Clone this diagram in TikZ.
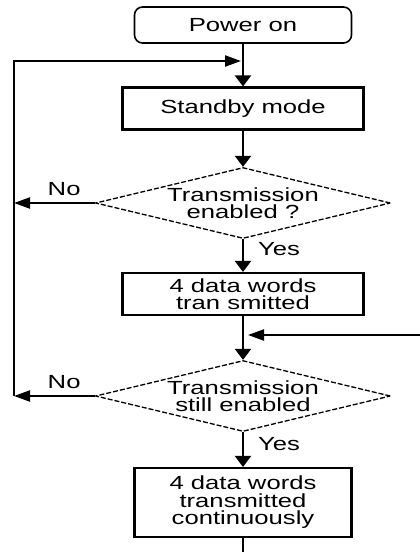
\documentclass[tikz,border=0pt]{standalone}
\usepackage{fontspec}
\newfontfamily\chartfont[FakeStretch=1.35]{Liberation Sans}
\usetikzlibrary{arrows.meta,positioning,shapes.geometric}

\begin{document}
\begin{tikzpicture}[x=1pt, y=-1pt,
    every node/.style={font=\chartfont\fontsize{19}{17.5}\selectfont},
    startbox/.style={rectangle, rounded corners=8pt, draw, line width=1.6pt,
                     minimum width=217pt, minimum height=36pt},
    procbox/.style={rectangle, draw, line width=2.1pt, align=center,
                    minimum width=241pt, minimum height=42pt, inner sep=0pt},
    decision/.style={diamond, draw, line width=1.3pt, dash pattern=on 5pt off 2pt,
                     aspect=4.15, minimum width=295pt, minimum height=71pt,
                     inner sep=0pt, align=center},
    flow/.style={-{Triangle[length=11pt, width=16pt]}, line width=2.1pt},
    sideflow/.style={-{Triangle[length=16pt, width=11pt]}, line width=2.1pt},
    answer/.style={inner sep=0pt}
  ]
  \useasboundingbox (0,0) rectangle (420,552);

  % boxes and decisions down the middle
  \node[startbox] (power) at (243,25) {Power on};
  \node[procbox] (standby) at (243,108.5) {Standby mode};
  \node[decision] (enabled) at (243,203) {Transmission\\enabled ?};
  \node[procbox] (sent) at (243,294) {4 data words\\tran smitted};
  \node[decision] (still) at (243,396) {Transmission\\still enabled};
  \node[procbox, minimum width=217pt, minimum height=69pt] (cont) at (243,502.5)
    {4 data words\\transmitted\\continuously};

  \coordinate (merge) at (243,61);
  \coordinate (loopbot) at (14,396);
  \coordinate (join) at (248,335);
  \coordinate (inflow) at (420,335);
  \coordinate (exit) at (243,552);

  % main line
  \draw[flow] (power) -- (standby);
  \draw[flow] (standby) -- (enabled);
  \draw[flow] (enabled) -- node[answer, pos=0.3, anchor=west, xshift=14pt] {Yes} (sent);
  \draw[flow] (sent) -- (still);
  \draw[flow] (still) -- node[answer, pos=0.35, anchor=west, xshift=14pt] {Yes} (cont);
  \draw[line width=2.1pt] (cont) -- (exit);
  \draw[sideflow] (inflow) -- (join);

  % back to standby
  \draw[sideflow] (enabled.west) -- node[answer, pos=0.38, above=6pt] {No} (enabled.west -| loopbot);
  \draw[sideflow] (still.west) -- node[answer, pos=0.38, above=6pt] {No} (loopbot);
  \draw[sideflow, shorten >=2pt] (loopbot) |- (merge);
\end{tikzpicture}
\end{document}
